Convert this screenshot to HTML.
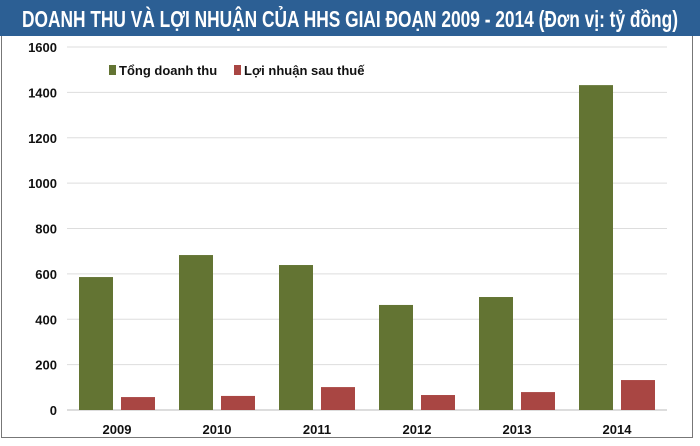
<!DOCTYPE html>
<html><head><meta charset="utf-8"><style>
body{margin:0;width:700px;height:446px;background:#fff;overflow:hidden;font-family:"Liberation Sans",sans-serif}
#titlebar{position:absolute;left:0;top:0;width:700px;height:36px;background:#2c5f94;}
#frame{position:absolute;left:1px;top:36px;width:690px;height:401px;border:1px solid #777;border-top:none;}
</style></head><body>
<div id="titlebar"></div>
<div id="frame"></div>
<svg id="chart" width="700" height="446" style="position:absolute;left:0;top:0">
<text x="22" y="27" textLength="656" lengthAdjust="spacingAndGlyphs" font-size="23" font-weight="bold" fill="#fff">DOANH THU VÀ LỢI NHUẬN CỦA HHS GIAI ĐOẠN 2009 - 2014 (Đơn vị: tỷ đồng)</text>
</svg>
<script>
const categories=["2009","2010","2011","2012","2013","2014"];
const revenue=[586,683,639,463,498,1432];
const profit=[57,62,101,66,79,132];
const yTicks=[0,200,400,600,800,1000,1200,1400,1600];
const NS="http://www.w3.org/2000/svg";
const svg=document.getElementById('chart');
const y0=410,yTop=47,x0=67,catW=100;
function yS(v){return y0-(v/1600)*(y0-yTop);}
function xS(i){return x0+i*catW;}
function mk(t,a){const e=document.createElementNS(NS,t);for(const k in a)e.setAttribute(k,a[k]);svg.appendChild(e);return e;}
yTicks.forEach(v=>{
 const l=mk('line',{x1:x0,x2:667,y1:yS(v),y2:yS(v),stroke:v===0?'#bbb':'#ddd','stroke-width':1});
 
 
 const t=mk('text',{x:57,y:yS(v)+5,'text-anchor':'end','font-size':13,'font-weight':'bold',fill:'#111'});
 t.textContent=v;
 
 
});
categories.forEach((c,i)=>{
 const g=mk('rect',{x:xS(i)+12,y:yS(revenue[i]),width:34,height:y0-yS(revenue[i]),fill:'#637433'});
 
 
 const r=mk('rect',{x:xS(i)+54,y:yS(profit[i]),width:34,height:y0-yS(profit[i]),fill:'#a94643'});
 
 
 const t=mk('text',{x:xS(i)+50,y:434,'text-anchor':'middle','font-size':13,'font-weight':'bold',fill:'#111'});
 t.textContent=c;
 
 
});
const lg1=mk('rect',{x:109,y:65,width:7,height:10,fill:'#637433'});


const lt1=mk('text',{x:119,y:75,'font-size':13,'font-weight':'bold',fill:'#111'});
lt1.textContent='Tổng doanh thu';


const lg2=mk('rect',{x:234,y:65,width:7,height:10,fill:'#a94643'});


const lt2=mk('text',{x:244,y:75,'font-size':13,'font-weight':'bold',fill:'#111'});
lt2.textContent='Lợi nhuận sau thuế';


</script>
</body></html>
